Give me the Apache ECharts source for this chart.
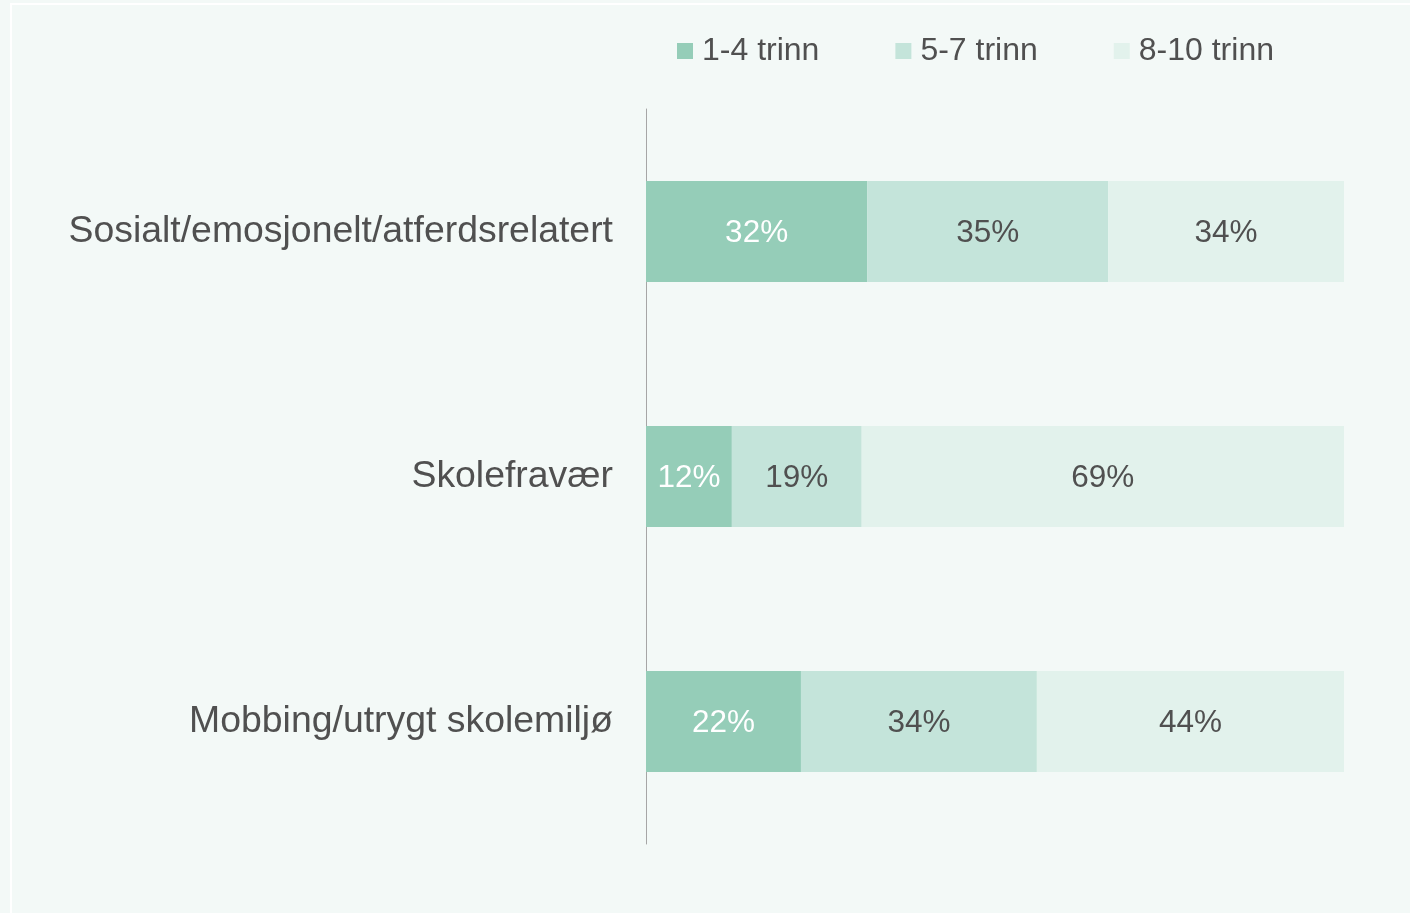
<!DOCTYPE html>
<html>
<head>
    <meta charset="utf-8">
    <style>
        html, body { margin: 0; padding: 0; background: #f3f9f7; }
        #chart { width: 1410px; height: 913px; }
    </style>
    <script src="https://cdn.jsdelivr.net/npm/echarts@6/dist/echarts.min.js"></script>
</head>
<body>
<div id="chart"></div>
<script>
    // kategorier (ovenfra og ned)
    var categories = ['Sosialt/emosjonelt/atferdsrelatert', 'Skolefravær', 'Mobbing/utrygt skolemiljø'];
    var seriesNames = ['1-4 trinn', '5-7 trinn', '8-10 trinn'];
    // andeler i prosent, lest av bredden på stolpene
    var trinn1_4 = [31.7, 12.3, 22.2];
    var trinn5_7 = [34.5, 18.6, 33.8];
    var trinn8_10 = [33.8, 69.1, 44.0];
    var colors = ['#95cdb8', '#c4e4da', '#e2f2ec'];

    var textColor = '#505050';
    var font = '"Liberation Sans", Arial, sans-serif';

    function makeSeries(name, data, color, labelColor) {
        return {
            name: name,
            type: 'bar',
            stack: 'total',
            data: data,
            barWidth: 101,
            itemStyle: { color: color },
            label: {
                show: true,
                color: labelColor,
                fontSize: 31.5,
                fontFamily: font,
                offset: [0, 2],
                formatter: function (p) { return Math.round(p.value) + '%'; }
            },
            emphasis: { disabled: true }
        };
    }

    var myChart = echarts.init(document.getElementById('chart'));
    var option = {
        backgroundColor: '#f3f9f7',
        animation: false,
        graphic: [{
            type: 'rect',
            shape: { x: 11, y: 4, width: 1420, height: 930 },
            style: { fill: 'none', stroke: '#ffffff', lineWidth: 2 },
            silent: true
        }],
        legend: {
            top: 30,
            left: 672,
            itemWidth: 16,
            itemHeight: 16,
            itemGap: 76,
            icon: 'rect',
            textStyle: { color: textColor, fontSize: 32, fontFamily: font, padding: [0, 0, 0, 4] },
            data: seriesNames
        },
        grid: { left: 646, right: 66, top: 109, bottom: 69, containLabel: false },
        xAxis: {
            type: 'value',
            min: 0,
            max: 100,
            show: false
        },
        yAxis: {
            type: 'category',
            inverse: true,
            data: categories,
            axisLine: { show: true, lineStyle: { color: '#a6a6a6', width: 1 } },
            axisTick: { show: false },
            axisLabel: { color: textColor, fontSize: 37.4, fontFamily: font, margin: 33, padding: [2, 0, 0, 0] }
        },
        series: [
            makeSeries(seriesNames[0], trinn1_4, colors[0], '#ffffff'),
            makeSeries(seriesNames[1], trinn5_7, colors[1], textColor),
            makeSeries(seriesNames[2], trinn8_10, colors[2], textColor)
        ]
    };
    myChart.setOption(option);
</script>
</body>
</html>
